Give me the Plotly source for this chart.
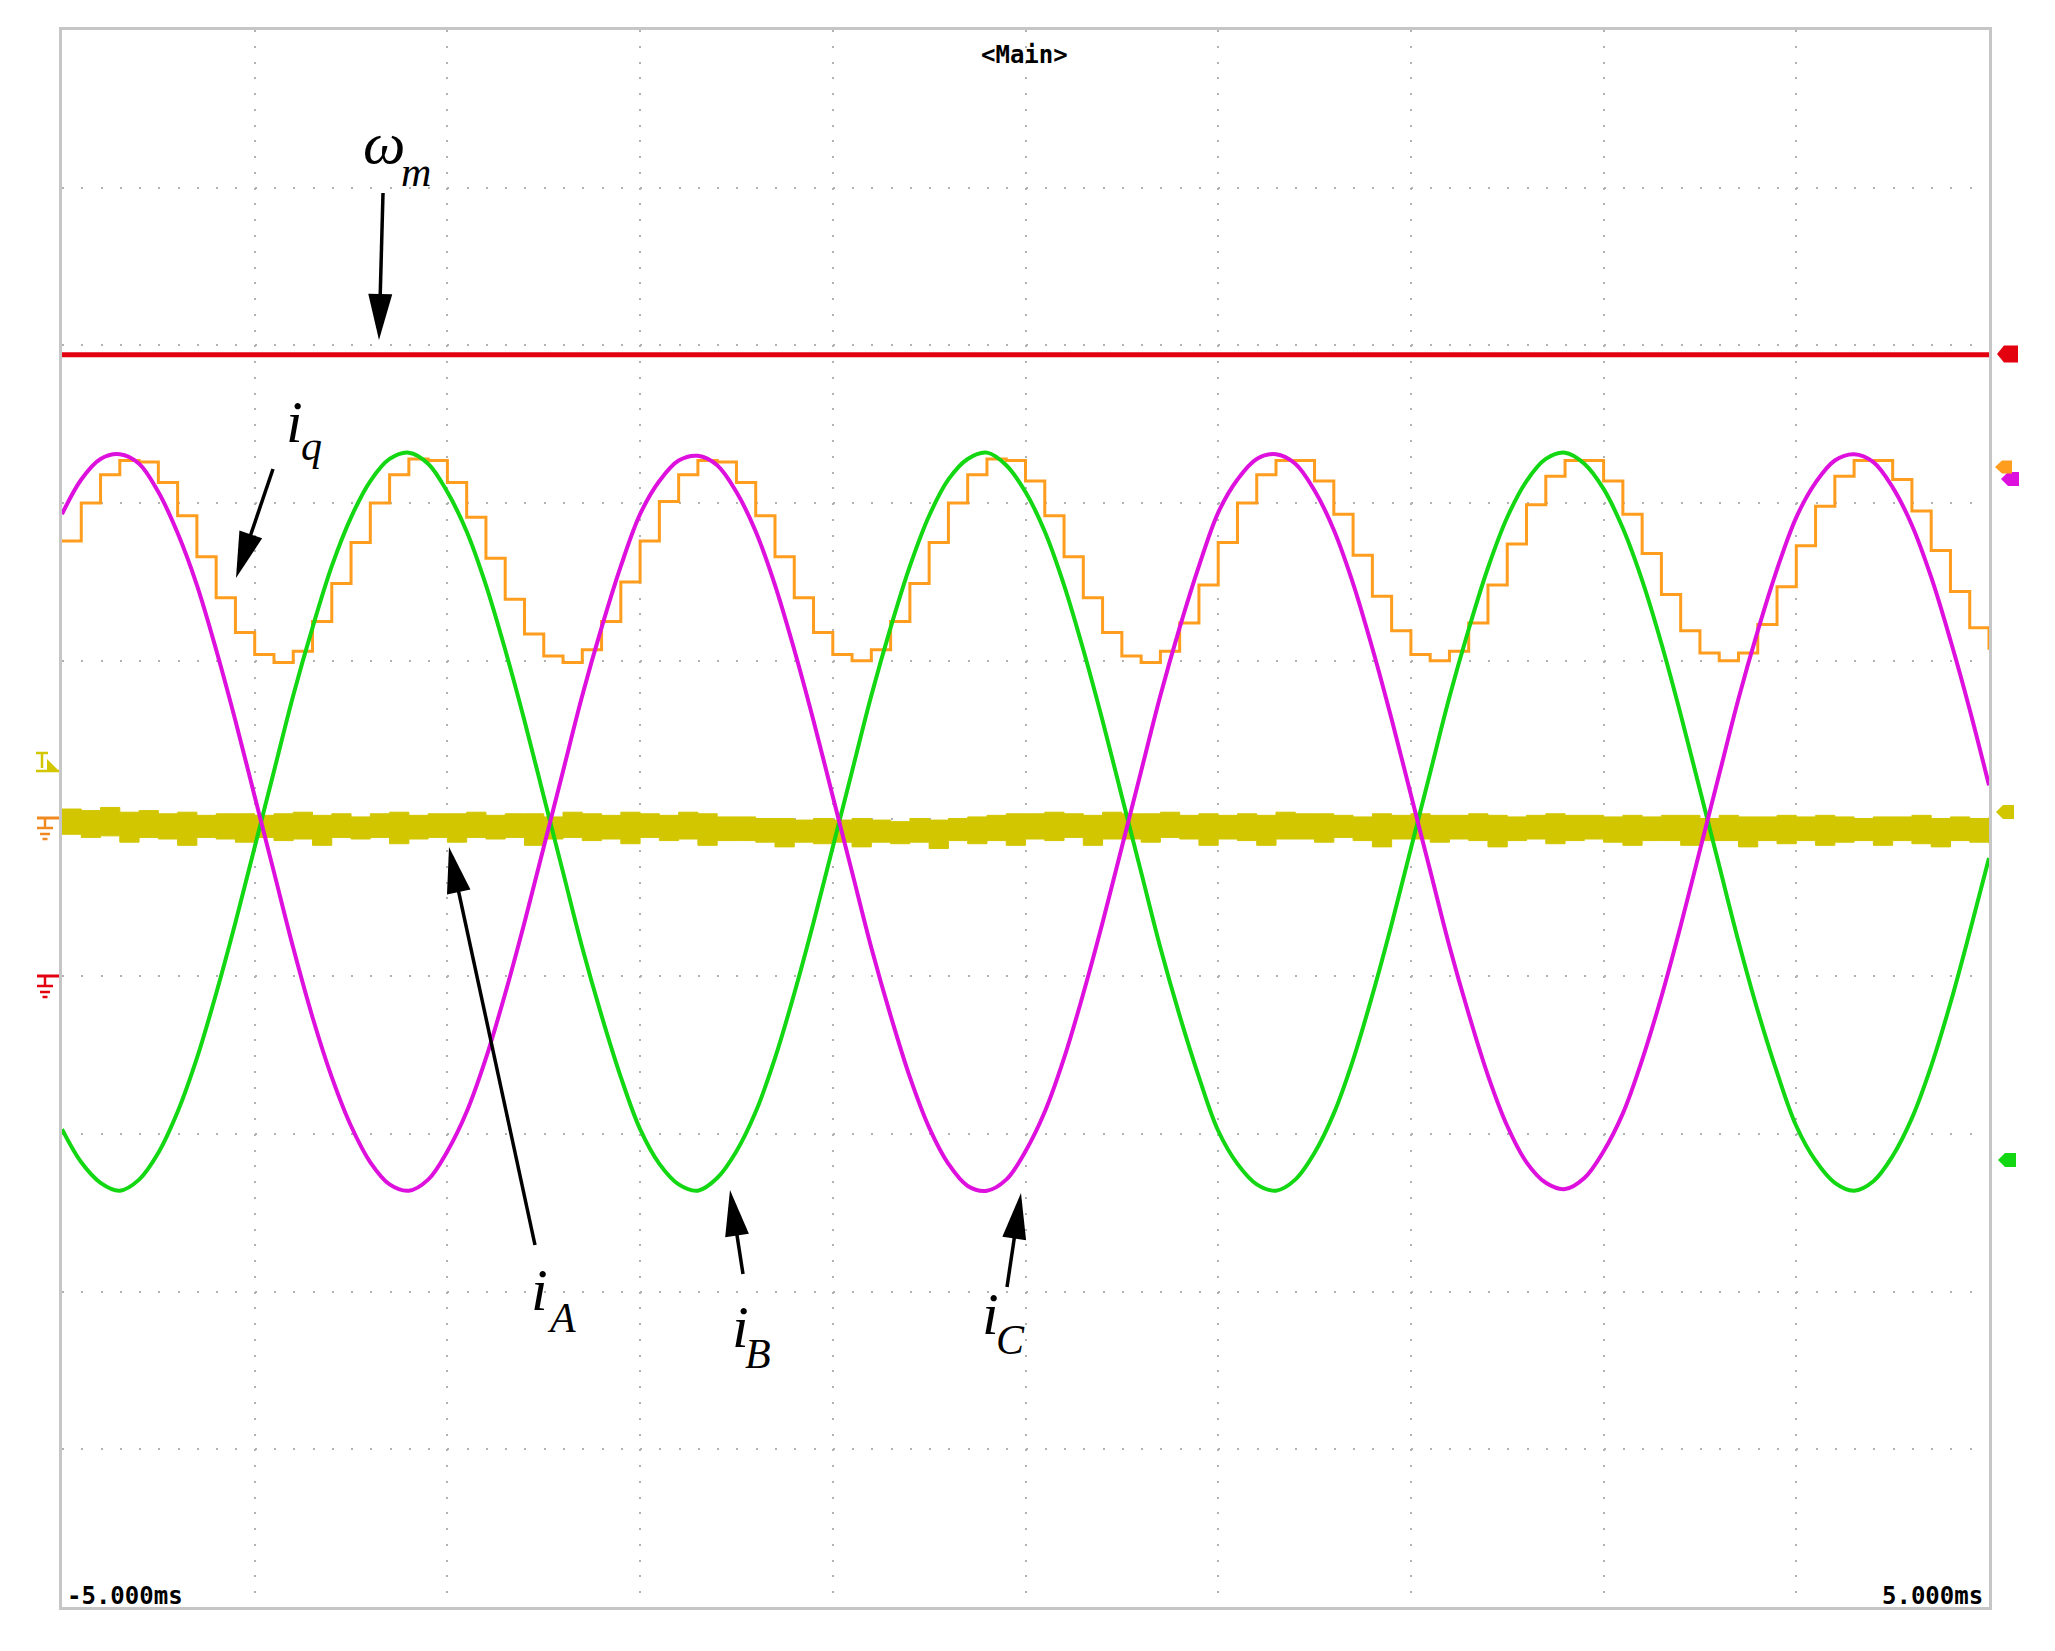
import math
import plotly.graph_objects as go

# ---------------- data (0.1 ms sampling) ----------------
t_ms = [round(-5 + 0.1 * k, 1) for k in range(101)]

omega_m = [2.94] * 101

i_q = [1.76, 2.00, 2.18, 2.27, 2.26, 2.13, 1.92, 1.66, 1.40, 1.18, 1.04, 0.99, 1.06, 1.25, 1.49,
       1.75, 2.00, 2.18, 2.28, 2.27, 2.13, 1.91, 1.65, 1.39, 1.17, 1.03, 0.99, 1.07, 1.25, 1.50,
       1.76, 2.01, 2.18, 2.27, 2.26, 2.13, 1.92, 1.66, 1.40, 1.18, 1.04, 1.00, 1.07, 1.25, 1.49,
       1.75, 2.00, 2.18, 2.28, 2.27, 2.14, 1.92, 1.66, 1.40, 1.18, 1.03, 0.99, 1.06, 1.24, 1.48,
       1.75, 2.00, 2.18, 2.27, 2.27, 2.14, 1.93, 1.67, 1.41, 1.19, 1.04, 1.00, 1.06, 1.24, 1.48,
       1.74, 1.99, 2.17, 2.27, 2.27, 2.14, 1.93, 1.68, 1.42, 1.19, 1.05, 1.00, 1.05, 1.23, 1.47,
       1.73, 1.98, 2.17, 2.27, 2.27, 2.15, 1.95, 1.70, 1.44, 1.21, 1.07]

i_magenta = [1.93, 2.15, 2.28, 2.31, 2.25, 2.07, 1.81, 1.48, 1.07, 0.62,
             0.14, -0.34, -0.82, -1.26, -1.64, -1.95, -2.18, -2.32, -2.36, -2.29,
             -2.11, -1.86, -1.52, -1.11, -0.66, -0.18, 0.30, 0.78, 1.21, 1.60,
             1.93, 2.14, 2.27, 2.30, 2.24, 2.07, 1.82, 1.48, 1.07, 0.62,
             0.14, -0.34, -0.82, -1.25, -1.64, -1.96, -2.19, -2.33, -2.36, -2.29,
             -2.11, -1.86, -1.52, -1.11, -0.66, -0.18, 0.30, 0.78, 1.21, 1.60,
             1.94, 2.15, 2.28, 2.31, 2.25, 2.08, 1.83, 1.49, 1.08, 0.63,
             0.15, -0.33, -0.81, -1.24, -1.63, -1.95, -2.18, -2.31, -2.35, -2.28,
             -2.11, -1.87, -1.53, -1.13, -0.68, -0.20, 0.28, 0.76, 1.19, 1.58,
             1.91, 2.13, 2.27, 2.31, 2.26, 2.10, 1.86, 1.53, 1.13, 0.69, 0.21]

i_green = [-1.97, -2.18, -2.31, -2.36, -2.29, -2.12, -1.86, -1.52, -1.11, -0.66,
           -0.18, 0.30, 0.78, 1.21, 1.60, 1.91, 2.14, 2.28, 2.32, 2.25,
           2.07, 1.82, 1.48, 1.07, 0.62, 0.14, -0.34, -0.82, -1.25, -1.64,
           -1.97, -2.19, -2.32, -2.36, -2.28, -2.11, -1.86, -1.52, -1.11, -0.66,
           -0.18, 0.30, 0.78, 1.21, 1.60, 1.92, 2.15, 2.28, 2.32, 2.24,
           2.07, 1.82, 1.48, 1.07, 0.62, 0.14, -0.34, -0.82, -1.25, -1.64,
           -1.98, -2.19, -2.32, -2.36, -2.29, -2.12, -1.87, -1.53, -1.12, -0.67,
           -0.19, 0.29, 0.77, 1.20, 1.59, 1.91, 2.14, 2.28, 2.32, 2.25,
           2.09, 1.84, 1.51, 1.11, 0.66, 0.18, -0.30, -0.78, -1.22, -1.61,
           -1.95, -2.17, -2.31, -2.36, -2.30, -2.14, -1.90, -1.57, -1.17, -0.72, -0.25]

# yellow (i_A) noisy band: upper and lower envelope
i_a_upper = [0.06, 0.05, 0.07, 0.04, 0.05, 0.03, 0.04, 0.02, 0.03, 0.03,
             0.02, 0.03, 0.04, 0.02, 0.03, 0.01, 0.03, 0.04, 0.02, 0.03,
             0.03, 0.04, 0.02, 0.03, 0.03, 0.01, 0.04, 0.03, 0.02, 0.04,
             0.03, 0.02, 0.04, 0.03, 0.01, 0.01, 0.00, 0.00, -0.01, 0.00,
             -0.01, 0.00, -0.01, -0.02, 0.00, -0.01, 0.00, 0.01, 0.02, 0.03,
             0.03, 0.04, 0.03, 0.02, 0.04, 0.03, 0.03, 0.04, 0.02, 0.03,
             0.02, 0.03, 0.02, 0.04, 0.03, 0.03, 0.02, 0.01, 0.03, 0.02,
             0.03, 0.02, 0.02, 0.03, 0.02, 0.01, 0.02, 0.03, 0.02, 0.02,
             0.01, 0.02, 0.01, 0.02, 0.02, 0.00, 0.02, 0.01, 0.01, 0.02,
             0.01, 0.02, 0.01, 0.00, 0.01, 0.01, 0.02, 0.00, 0.01, 0.00, 0.01]
i_a_lower = [-0.10, -0.12, -0.11, -0.15, -0.12, -0.13, -0.17, -0.12, -0.13, -0.15,
             -0.12, -0.14, -0.13, -0.17, -0.12, -0.13, -0.12, -0.16, -0.13, -0.12,
             -0.15, -0.12, -0.13, -0.12, -0.17, -0.13, -0.12, -0.14, -0.13, -0.16,
             -0.12, -0.14, -0.13, -0.17, -0.14, -0.14, -0.15, -0.18, -0.15, -0.16,
             -0.15, -0.18, -0.15, -0.16, -0.15, -0.19, -0.14, -0.16, -0.14, -0.17,
             -0.13, -0.14, -0.12, -0.17, -0.13, -0.13, -0.15, -0.12, -0.13, -0.17,
             -0.13, -0.14, -0.17, -0.13, -0.13, -0.15, -0.12, -0.14, -0.18, -0.13,
             -0.13, -0.15, -0.13, -0.14, -0.18, -0.14, -0.13, -0.16, -0.14, -0.13,
             -0.15, -0.17, -0.14, -0.14, -0.17, -0.14, -0.14, -0.18, -0.14, -0.16,
             -0.14, -0.17, -0.15, -0.14, -0.17, -0.14, -0.16, -0.18, -0.14, -0.15, -0.16]

time_labels = ["-5.000ms", "5.000ms"]
header_label = "<Main>"

for s in (omega_m, i_q, i_magenta, i_green, i_a_upper, i_a_lower):
    assert len(s) == len(t_ms)

# ---------------- styles / geometry ----------------
WIN_W, WIN_H = 2055, 1651
BODY = 8                           # default page margin around the plot div
W, H = WIN_W - 2 * BODY, WIN_H - 2 * BODY
L, T, R, B = 62, 30, 1989, 1607    # plot frame in window pixels
PW, PH = R - L, B - T

RED = "#e3000f"
ORANGE = "#ff9d1e"
MAGENTA = "#dd10dd"
GREEN = "#12d712"
YELLOW = "#d2c600"


def P(px, py):
    return (px - L) / PW, (B - py) / PH


fig = go.Figure()

fig.add_trace(go.Scatter(x=t_ms, y=i_a_lower, mode="lines", line_shape="hv",
                         line=dict(color=YELLOW, width=1), hoverinfo="skip"))
fig.add_trace(go.Scatter(x=t_ms, y=i_a_upper, mode="lines", line_shape="hv", fill="tonexty",
                         fillcolor=YELLOW, line=dict(color=YELLOW, width=1), name="i_A"))
fig.add_trace(go.Scatter(x=t_ms, y=i_q, mode="lines", line_shape="hv",
                         line=dict(color=ORANGE, width=3), name="i_q"))
fig.add_trace(go.Scatter(x=t_ms, y=i_green, mode="lines", line_shape="spline",
                         line=dict(color=GREEN, width=4), name="i_B"))
fig.add_trace(go.Scatter(x=t_ms, y=i_magenta, mode="lines", line_shape="spline",
                         line=dict(color=MAGENTA, width=4), name="i_C"))
fig.add_trace(go.Scatter(x=t_ms, y=omega_m, mode="lines",
                         line=dict(color=RED, width=5), name="omega_m"))

shapes = []


def path_shape(pts, color, width=0, fill=True):
    d = "M " + " L ".join(f"{P(x, y)[0]:.5f},{P(x, y)[1]:.5f}" for x, y in pts)
    if fill:
        d += " Z"
    return dict(type="path", path=d, xref="paper", yref="paper",
                fillcolor=color if fill else None,
                line=dict(color=color, width=width))


def seg(x0, y0, x1, y1, color, width):
    a, b = P(x0, y0), P(x1, y1)
    return dict(type="line", xref="paper", yref="paper", x0=a[0], y0=a[1], x1=b[0], y1=b[1],
                line=dict(color=color, width=width))


def arrow(tail, tip, head_len=46, head_w=12):
    dx, dy = tip[0] - tail[0], tip[1] - tail[1]
    n = math.hypot(dx, dy)
    ux, uy = dx / n, dy / n
    bx, by = tip[0] - ux * head_len, tip[1] - uy * head_len
    nx, ny = -uy, ux
    shapes.append(seg(tail[0], tail[1], bx + ux * 4, by + uy * 4, "black", 3.5))
    shapes.append(path_shape([tip, (bx + nx * head_w, by + ny * head_w),
                              (bx - nx * head_w, by - ny * head_w)], "black"))


arrow((383, 193), (379, 340))      # omega_m
arrow((273, 469), (236, 578))      # i_q
arrow((535, 1245), (449, 847))     # i_A
arrow((743, 1274), (730, 1190))    # i_B
arrow((1007, 1287), (1021, 1193))  # i_C


def pent(xtip, cy, color, w=18, h=15):
    return path_shape([(xtip, cy), (xtip + 7, cy - h / 2), (xtip + w, cy - h / 2),
                       (xtip + w, cy + h / 2), (xtip + 7, cy + h / 2)], color)


shapes.append(pent(1997, 354, RED, w=21, h=17))
shapes.append(pent(2001, 479, MAGENTA, w=18, h=14))
shapes.append(pent(1995, 467, ORANGE, w=17, h=13))
shapes.append(pent(1996, 812, YELLOW, w=18, h=14))
shapes.append(pent(1998, 1160, GREEN, w=18, h=14))


def ground(top, color):
    shapes.append(seg(37, top, 59, top, color, 3))
    shapes.append(seg(45, top, 45, top + 10, color, 2.5))
    shapes.append(seg(37, top + 10, 53, top + 10, color, 2.5))
    shapes.append(seg(40, top + 16, 50, top + 16, color, 2.5))
    shapes.append(seg(42.5, top + 21, 47.5, top + 21, color, 2.5))


ground(818, "#f08a20")
ground(976, RED)
# trigger mark
shapes.append(seg(36, 753, 48, 753, YELLOW, 2.5))
shapes.append(seg(42, 753, 42, 768, YELLOW, 2.5))
shapes.append(seg(36, 771, 59, 771, YELLOW, 2.5))
shapes.append(path_shape([(47, 759), (59, 771), (47, 771)], YELLOW))

ann = []


def label(text, px, py, size):
    x, y = P(px, py)
    ann.append(dict(text=text, x=x, y=y, xref="paper", yref="paper", showarrow=False,
                    xanchor="center", yanchor="middle",
                    font=dict(family="Liberation Serif", size=size, color="black")))


label("<i>ω</i>", 384, 143, 60)
label("<i>m</i>", 416, 172, 42)
label("<i>i</i>", 294, 422, 60)
label("<i>q</i>", 311, 446, 42)
label("<i>i</i>", 539, 1290, 60)
label("<i>A</i>", 561, 1318, 42)
label("<i>i</i>", 740, 1327, 60)
label("<i>B</i>", 758, 1354, 42)
label("<i>i</i>", 990, 1314, 60)
label("<i>C</i>", 1010, 1340, 42)

mono = dict(family="DejaVu Sans Mono", size=24, color="black")
x, y = P(1024, 55)
ann.append(dict(text=f"<b>{header_label.replace('<', '&lt;').replace('>', '&gt;')}</b>", x=x, y=y,
                xref="paper", yref="paper", showarrow=False, xanchor="center", yanchor="middle",
                font=dict(family="DejaVu Sans Mono", size=24, color="black")))
x, y = P(65, 1596)
ann.append(dict(text=f"<b>{time_labels[0]}</b>", x=x, y=y, xref="paper", yref="paper",
                showarrow=False, xanchor="left", yanchor="middle", font=mono))
x, y = P(1985, 1596)
ann.append(dict(text=f"<b>{time_labels[1]}</b>", x=x, y=y, xref="paper", yref="paper",
                showarrow=False, xanchor="right", yanchor="middle", font=mono))

axis_common = dict(showticklabels=False, ticks="", zeroline=False, showgrid=True,
                   gridcolor="#b2b2b2", gridwidth=2, showline=True, mirror=True,
                   linecolor="#c6c6c6", linewidth=3, dtick=1, fixedrange=True)

fig.update_layout(
    width=W, height=H,
    margin=dict(l=L - BODY, r=(WIN_W - BODY) - R, t=T - BODY, b=(WIN_H - BODY) - B, pad=0),
    paper_bgcolor="white", plot_bgcolor="white",
    showlegend=False,
    xaxis=dict(range=[-5, 5], tick0=-5, griddash="2px,13.77px", **axis_common),
    yaxis=dict(range=[-5, 5], tick0=-5, griddash="2px,17.27px", **axis_common),
    shapes=shapes,
    annotations=ann,
)

fig.write_html("out.html")
